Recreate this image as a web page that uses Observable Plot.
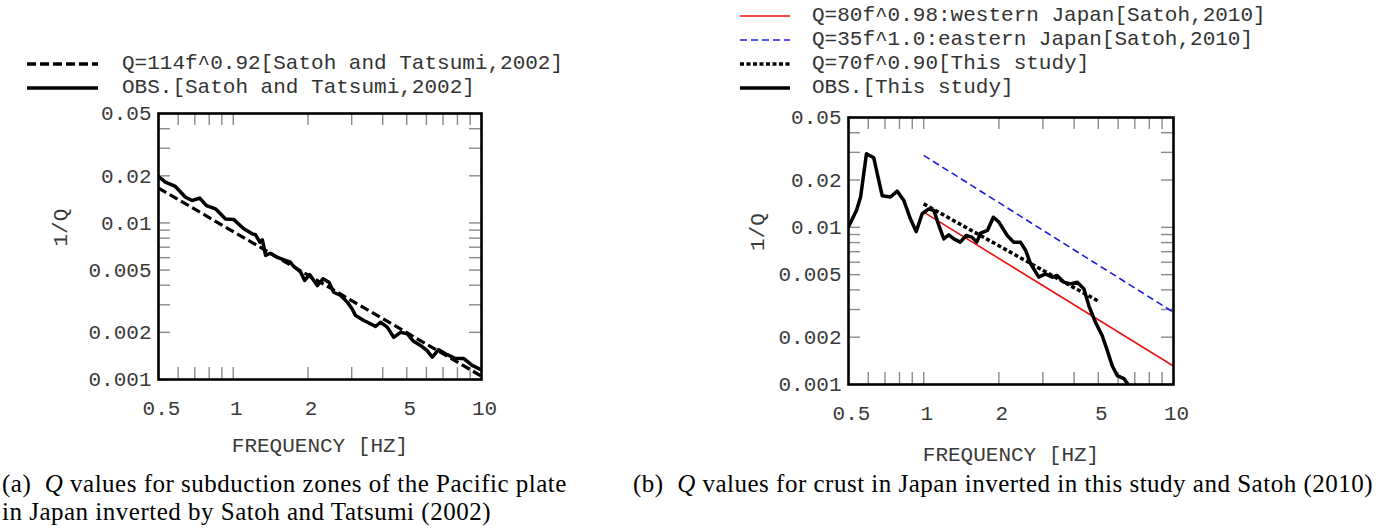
<!DOCTYPE html>
<html>
<head>
<meta charset="utf-8">
<script src="https://cdn.jsdelivr.net/npm/d3@7"></script>
<script src="https://cdn.jsdelivr.net/npm/@observablehq/plot@0.6"></script>
<style>
  html, body { margin: 0; padding: 0; background: #fff; }
  #wrap { position: relative; width: 1397px; height: 529px; overflow: hidden; background: #fff; }
  .mono { font-family: "Liberation Mono", "DejaVu Sans Mono", monospace; color: #333; }
  .leg { position: absolute; font-size: 21px; line-height: 24px; white-space: pre; }
  .leg .row { position: absolute; left: 0; height: 24px; }
  .leg svg { position: absolute; top: 0; }
  .leg span { position: absolute; top: 0; }
  .cap { position: absolute; font-family: "Liberation Serif", "Times New Roman", serif; font-size: 25px; line-height: 28px; letter-spacing: 0.5px; color: #000; white-space: nowrap; }
  .panel { position: absolute; top: 0; }
</style>
</head>
<body>
<div id="wrap"></div>
<script>
// ---------------- data ----------------
// (a) Satoh and Tatsumi (2002)
const obsAFreq = [0.5, 0.533, 0.585, 0.642, 0.683, 0.733, 0.78, 0.848, 0.931, 1.005, 1.103, 1.192, 1.23, 1.28, 1.31, 1.35, 1.41, 1.5, 1.6, 1.7, 1.74, 1.87, 1.94, 2.03, 2.18, 2.3, 2.43, 2.54, 2.71, 2.88, 3.01, 3.11, 3.36, 3.57, 3.74, 3.92, 4.17, 4.43, 4.72, 5.02, 5.29, 5.68, 6.04, 6.33, 6.72, 7.28, 7.86, 8.49, 9.17, 10];
const obsAInvQ = [0.0198, 0.0182, 0.0171, 0.0146, 0.0139, 0.0144, 0.0129, 0.0123, 0.0106, 0.0105, 0.00918, 0.00852, 0.0084, 0.00753, 0.0078, 0.0062, 0.0064, 0.00604, 0.00581, 0.00561, 0.00535, 0.00485, 0.00429, 0.00468, 0.00398, 0.0044, 0.00418, 0.00361, 0.00344, 0.00312, 0.00283, 0.00256, 0.00238, 0.00227, 0.00218, 0.00232, 0.00216, 0.00186, 0.002, 0.00196, 0.00177, 0.00165, 0.00153, 0.00139, 0.00155, 0.00144, 0.00136, 0.00136, 0.00123, 0.00115];
const modelAFreq = [0.5, 10];
const modelAInvQ = [0.0167, 0.00105];

// (b) this study and Satoh (2010)
const obsBFreq = [0.5, 0.538, 0.559, 0.59, 0.631, 0.682, 0.736, 0.783, 0.833, 0.885, 0.933, 0.986, 1.048, 1.098, 1.15, 1.204, 1.26, 1.32, 1.4, 1.48, 1.56, 1.63, 1.69, 1.8, 1.9, 2.0, 2.16, 2.29, 2.44, 2.56, 2.68, 2.89, 3.07, 3.27, 3.42, 3.64, 3.87, 4.12, 4.38, 4.58, 4.87, 5.18, 5.43, 5.68, 5.95, 6.33, 6.59];
const obsBInvQ = [0.0101, 0.0128, 0.0156, 0.0294, 0.0277, 0.0159, 0.0156, 0.017, 0.0148, 0.0113, 0.0094, 0.0122, 0.0131, 0.0128, 0.0103, 0.00845, 0.00896, 0.00845, 0.00805, 0.00887, 0.00866, 0.00805, 0.00918, 0.00955, 0.0116, 0.0108, 0.00887, 0.00805, 0.00805, 0.00712, 0.00586, 0.00482, 0.00506, 0.00482, 0.00494, 0.00448, 0.00437, 0.00448, 0.00406, 0.00318, 0.00249, 0.00205, 0.00165, 0.00132, 0.00114, 0.00109, 0.001];
const westFreq = [1, 10];
const westInvQ = [0.0125, 0.00131];
const eastFreq = [1, 10];
const eastInvQ = [0.0287, 0.00288];
const thisFreq = [1, 5];
const thisInvQ = [0.0141, 0.00339];

// axes
const xDomain = [0.5, 10];
const yDomain = [0.001, 0.05];
const xLabelTicks = [0.5, 1, 2, 5, 10];
const yLabelTicks = [0.001, 0.002, 0.005, 0.01, 0.02, 0.05];
const xAllTicks = [0.5, 0.6, 0.7, 0.8, 0.9, 1, 2, 3, 4, 5, 6, 7, 8, 9, 10];
const yAllTicks = [0.001, 0.002, 0.003, 0.004, 0.005, 0.006, 0.007, 0.008, 0.009, 0.01, 0.02, 0.03, 0.04, 0.05];
const xTitle = "FREQUENCY [HZ]";
const yTitle = "1/Q";

const legendA = [
  {label: "Q=114f^0.92[Satoh and Tatsumi,2002]", color: "#000", width: 3.5, dash: "9,4"},
  {label: "OBS.[Satoh and Tatsumi,2002]", color: "#000", width: 3.5, dash: null}
];
const legendB = [
  {label: "Q=80f^0.98:western Japan[Satoh,2010]", color: "#ee1111", width: 1.6, dash: null},
  {label: "Q=35f^1.0:eastern Japan[Satoh,2010]", color: "#1c1ce0", width: 1.6, dash: "7,4"},
  {label: "Q=70f^0.90[This study]", color: "#000", width: 3.5, dash: "4,2.5"},
  {label: "OBS.[This study]", color: "#000", width: 3.5, dash: null}
];
const captionA = ["(a)&nbsp; <i>Q</i> values for subduction zones of the Pacific plate", "in Japan inverted by Satoh and Tatsumi (2002)"];
const captionB = ["(b)&nbsp; <i>Q</i> values for crust in Japan inverted in this study and Satoh (2010)"];

const zip = (xs, ys) => xs.map((x, i) => ({f: x, q: ys[i]}));

const MONO = "Liberation Mono, DejaVu Sans Mono, monospace";

function panel({width, height, ml, mr, mt, mb, lines, titleDy, ylabelDx}) {
  const fw = width - ml - mr, fh = height - mt - mb;
  const tickLen = 12;
  const tickStyle = {stroke: "#8a8a8a", strokeWidth: 1.4};
  return Plot.plot({
    width, height,
    marginLeft: ml, marginRight: mr, marginTop: mt, marginBottom: mb,
    style: {fontFamily: MONO, fontSize: "21px", color: "#333", background: "#fff", overflow: "visible"},
    x: {type: "log", domain: xDomain},
    y: {type: "log", domain: yDomain},
    marks: [
      Plot.ruleX(xAllTicks, {x: d => d, insetTop: fh - tickLen, ...tickStyle}),
      Plot.ruleX(xAllTicks, {x: d => d, insetBottom: fh - tickLen, ...tickStyle}),
      Plot.ruleY(yAllTicks, {y: d => d, insetRight: fw - tickLen, ...tickStyle}),
      Plot.ruleY(yAllTicks, {y: d => d, insetLeft: fw - tickLen, ...tickStyle}),
      ...lines.map(l => Plot.line(l.data, {x: "f", y: "q", stroke: l.color, strokeWidth: l.width, strokeDasharray: l.dash || undefined, strokeLinecap: l.dash ? "butt" : "round", strokeLinejoin: "round", clip: true})),
      Plot.frame({stroke: "#000", strokeWidth: 2.6}),
      Plot.axisX({ticks: xLabelTicks, tickFormat: d => String(d), tickSize: 0, tickPadding: 21, label: null, fontSize: 21, fill: "#3a3a3a", dx: 3}),
      Plot.axisY({ticks: yLabelTicks, tickFormat: d => String(d), tickSize: 0, tickPadding: 7, label: null, fontSize: 21, fill: "#3a3a3a"}),
      Plot.text([xTitle], {frameAnchor: "bottom", dy: titleDy, text: d => d, fontSize: 21, fill: "#3a3a3a", lineAnchor: "middle"}),
      Plot.text([yTitle], {frameAnchor: "left", dx: ylabelDx, text: d => d, fontSize: 21, fill: "#3a3a3a", rotate: -90, lineAnchor: "middle"})
    ]
  });
}

const wrap = document.getElementById("wrap");

const pA = panel({width: 700, height: 529, ml: 158, mr: 219, mt: 113, mb: 150, titleDy: 66, ylabelDx: -98,
  lines: [
    {data: zip(modelAFreq, modelAInvQ), color: "#000", width: 3.2, dash: "9,4"},
    {data: zip(obsAFreq, obsAInvQ), color: "#000", width: 3.5}
  ]});
pA.classList.add("panel"); pA.style.left = "0px";
wrap.appendChild(pA);

const pB = panel({width: 697, height: 529, ml: 148, mr: 224, mt: 117, mb: 145, titleDy: 70, ylabelDx: -91,
  lines: [
    {data: zip(westFreq, westInvQ), color: "#ee1111", width: 1.6},
    {data: zip(eastFreq, eastInvQ), color: "#1c1ce0", width: 1.6, dash: "7,4"},
    {data: zip(thisFreq, thisInvQ), color: "#000", width: 3.5, dash: "4,2.5"},
    {data: zip(obsBFreq, obsBInvQ), color: "#000", width: 3.5}
  ]});
pB.classList.add("panel"); pB.style.left = "700px";
wrap.appendChild(pB);

function legend(items, {left, top, lineX0, lineX1, textX}) {
  const div = document.createElement("div");
  div.className = "leg mono";
  div.style.left = left + "px";
  div.style.top = top + "px";
  items.forEach((it, i) => {
    const row = document.createElement("div");
    row.className = "row";
    row.style.top = (i * 24) + "px";
    const w = lineX1 - lineX0;
    row.innerHTML = `<svg width="${w}" height="24" style="left:${lineX0}px"><line x1="0" x2="${w}" y1="12" y2="12" stroke="${it.color}" stroke-width="${it.width}" ${it.dash ? `stroke-dasharray="${it.dash}"` : ""}/></svg><span style="left:${textX}px">${it.label}</span>`;
    div.appendChild(row);
  });
  wrap.appendChild(div);
}
legend(legendA, {left: 0, top: 52, lineX0: 27, lineX1: 98, textX: 122});
legend(legendB, {left: 0, top: 4, lineX0: 740, lineX1: 790, textX: 812});

function caption(lines, left, top) {
  const d = document.createElement("div");
  d.className = "cap";
  d.style.left = left + "px";
  d.style.top = top + "px";
  d.innerHTML = lines.join("<br>");
  wrap.appendChild(d);
}
caption(captionA, 2, 470);
caption(captionB, 633, 470);
</script>
</body>
</html>
